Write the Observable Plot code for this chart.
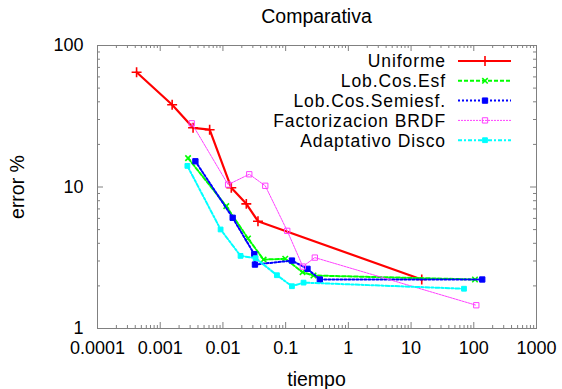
<!DOCTYPE html>
<html><head><meta charset="utf-8">
<script src="https://cdn.jsdelivr.net/npm/d3@7"></script>
<script src="https://cdn.jsdelivr.net/npm/@observablehq/plot@0.6"></script>
<style>
body{margin:0;background:#fff;}
#chart{width:562px;height:389px;}
</style>
</head><body><div id="chart"></div>
<script>
// ---- data ----
const seriesNames = ["Uniforme","Lob.Cos.Esf","Lob.Cos.Semiesf.","Factorizacion BRDF","Adaptativo Disco"];
const uniformeT = [0.00042,0.00155,0.00334,0.00614,0.0136,0.0236,0.0362,14.8];
const uniformeE = [64.7,38.1,26.2,25.4,9.87,7.6,5.73,2.22];
const lobCosEsfT = [0.00278,0.0113,0.0251,0.0445,0.0986,0.186,0.278,104.5];
const lobCosEsfE = [16.0,7.32,4.33,3.07,3.11,2.50,2.37,2.22];
const lobCosSemiT = [0.00364,0.0143,0.0316,0.0324,0.126,0.223,0.351,136.5];
const lobCosSemiE = [15.2,6.06,3.35,2.83,3.02,2.64,2.22,2.22];
const factBRDFT = [0.00318,0.0121,0.0263,0.0473,0.106,0.188,0.292,109.6];
const factBRDFE = [28.2,10.4,12.3,10.2,4.90,2.74,3.17,1.46];
const adaptDiscoT = [0.00271,0.00918,0.0191,0.0332,0.0726,0.126,0.193,69.8];
const adaptDiscoE = [14.1,5.01,3.26,3.14,2.38,1.99,2.11,1.91];

const xTicks = [0.0001,0.001,0.01,0.1,1,10,100,1000];
const xTickLabels = ["0.0001","0.001","0.01","0.1","1","10","100","1000"];
const yTicks = [1,10,100];
const yTickLabels = ["1","10","100"];

// ---- styles ----
const seriesColors = ["#ff0000","#00ff00","#0000ff","#ff40ff","#00ffff"];
const seriesDash = [null,"4,2","2,2","2,1","4,2,2,2"];
const seriesWidth = [2.2,2,2,1,2];
const seriesSymbol = ["plus","times","square","square","square"];
const seriesFilled = [false,false,true,false,true];
const seriesR = [3.3,2.6,3,3,2.7];
const seriesMarkW = [1.6,1.6,1,1,1];

const seriesT = [uniformeT,lobCosEsfT,lobCosSemiT,factBRDFT,adaptDiscoT];
const seriesE = [uniformeE,lobCosEsfE,lobCosSemiE,factBRDFE,adaptDiscoE];

const W = 562, H = 389, ML = 97, MR = 26, MT = 45, MB = 61;
const PW = W - ML - MR, PH = H - MT - MB;
const FONT = "Liberation Sans, Arial, Helvetica, sans-serif";
const FS = 18;     // tick labels
const FS2 = 19.5;  // title, axis labels
const FSL = 17.5;  // legend

const minor = (lo, hi) => {
  const out = [];
  for (let k = lo; k < hi; k++) for (let m = 2; m <= 9; m++) out.push(m * Math.pow(10, k));
  return out;
};
const xMinor = minor(-4, 3);
const yMinor = minor(0, 2);

const marks = [];
const tickStroke = "#808080";
// inward ticks on all four sides
marks.push(Plot.tickX(xTicks, {x: d => d, insetTop: PH - 6, stroke: tickStroke}));
marks.push(Plot.tickX(xTicks, {x: d => d, insetBottom: PH - 6, stroke: tickStroke}));
marks.push(Plot.tickX(xMinor, {x: d => d, insetTop: PH - 3, stroke: tickStroke}));
marks.push(Plot.tickX(xMinor, {x: d => d, insetBottom: PH - 3, stroke: tickStroke}));
marks.push(Plot.tickY(yTicks, {y: d => d, insetRight: PW - 6, stroke: tickStroke}));
marks.push(Plot.tickY(yTicks, {y: d => d, insetLeft: PW - 6, stroke: tickStroke}));
marks.push(Plot.tickY(yMinor, {y: d => d, insetRight: PW - 3, stroke: tickStroke}));
marks.push(Plot.tickY(yMinor, {y: d => d, insetLeft: PW - 3, stroke: tickStroke}));
marks.push(Plot.frame({stroke: tickStroke}));
marks.push(Plot.axisX({ticks: xTicks, tickSize: 0, tickPadding: 13, label: null, fontSize: FS,
  tickFormat: d => xTickLabels[xTicks.indexOf(d)]}));
marks.push(Plot.axisY({ticks: yTicks, tickSize: 0, tickPadding: 14, label: null, fontSize: FS,
  tickFormat: d => yTickLabels[yTicks.indexOf(d)]}));

seriesNames.forEach((name, i) => {
  const rows = seriesT[i].map((t, j) => ({t, e: seriesE[i][j]}));
  marks.push(Plot.line(rows, {x: "t", y: "e", stroke: seriesColors[i], strokeWidth: seriesWidth[i],
    strokeDasharray: seriesDash[i], strokeLinejoin: "miter"}));
  marks.push(Plot.dot(rows, {x: "t", y: "e", symbol: seriesSymbol[i], r: seriesR[i],
    stroke: seriesColors[i], fill: seriesFilled[i] ? seriesColors[i] : "none",
    strokeWidth: seriesMarkW[i]}));
});

const chart = Plot.plot({
  width: W, height: H,
  marginLeft: ML, marginRight: MR, marginTop: MT, marginBottom: MB,
  x: {type: "log", domain: [1e-4, 1e3]},
  y: {type: "log", domain: [1, 100]},
  style: {fontFamily: FONT, fontSize: FS + "px", color: "#000", background: "#fff"},
  marks
});
document.getElementById("chart").appendChild(chart);

// titles and legend
const svg = d3.select(chart);
const txt = (x, y, s, anchor, rot) => {
  const t = svg.append("text").attr("x", x).attr("y", y).attr("text-anchor", anchor)
    .attr("font-family", FONT).attr("font-size", FS2).attr("fill", "#000").text(s);
  if (rot) t.attr("transform", `rotate(${rot},${x},${y})`);
  return t;
};
txt(ML + PW / 2, 23, "Comparativa", "middle");
txt(ML + PW / 2, 386, "tiempo", "middle");
txt(24, 187, "error %", "middle", -90);

const lg = svg.append("g");
const symMap = {plus: d3.symbolPlus, times: d3.symbolTimes, square: d3.symbolSquare};
seriesNames.forEach((name, i) => {
  const cy = 61 + i * 19.8;
  lg.append("text").attr("x", 446).attr("y", cy + 6.3).attr("text-anchor", "end")
    .attr("font-family", FONT).attr("font-size", FSL).attr("letter-spacing", "0.9px").text(name);
  lg.append("line").attr("x1", 458).attr("x2", 511).attr("y1", cy).attr("y2", cy)
    .attr("stroke", seriesColors[i]).attr("stroke-width", seriesWidth[i])
    .attr("stroke-dasharray", seriesDash[i]);
  lg.append("path").attr("transform", `translate(485,${cy})`)
    .attr("d", d3.symbol(symMap[seriesSymbol[i]], Math.PI * seriesR[i] * seriesR[i])())
    .attr("stroke", seriesColors[i]).attr("fill", seriesFilled[i] ? seriesColors[i] : "none")
    .attr("stroke-width", seriesMarkW[i]);
});
</script>
</body></html>
